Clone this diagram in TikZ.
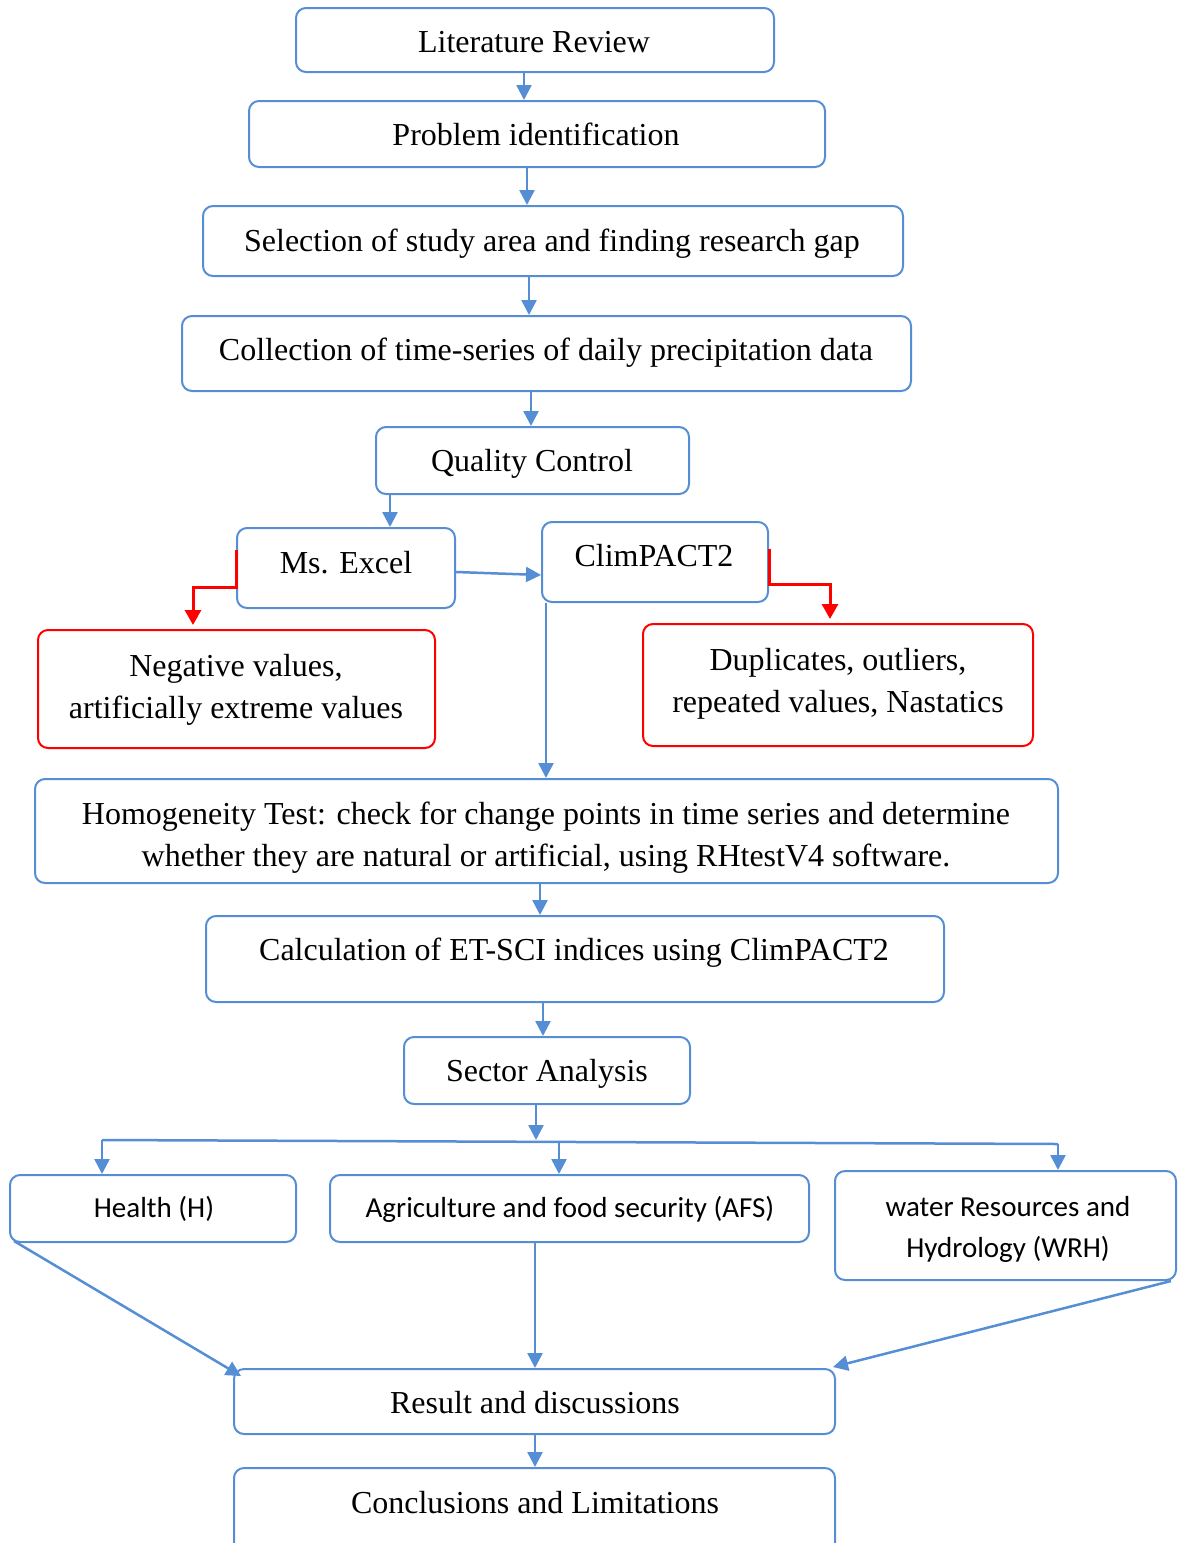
\documentclass[tikz,border=0pt]{standalone}
\usepackage{fontspec}
\setmainfont{Liberation Serif}
\newfontfamily\calfont{Carlito}
\usetikzlibrary{arrows.meta,calc,fit}
\definecolor{bl}{RGB}{85,142,213}
\definecolor{rd}{RGB}{255,0,0}
\begin{document}
\begin{tikzpicture}[x=1pt,y=-1pt,
 box/.style={draw=bl, line width=2pt, rounded corners=10pt, inner sep=0pt},
 rbox/.style={box, draw=rd},
 arr/.style={draw=bl, line width=2.5pt, -{Triangle[length=15pt,width=15pt]}},
 rarr/.style={draw=rd, line width=3pt, -{Triangle[length=15pt,width=16pt]}, shorten >=4pt},
 ln/.style={draw=bl, line width=2.5pt},
 tx/.style={font=\fontsize{32}{42}\selectfont, inner sep=0pt, anchor=base},
 tx2/.style={font=\fontsize{32}{42}\selectfont, inner sep=0pt, align=center},
 cx/.style={font=\calfont\fontsize{29}{41}\selectfont, inner sep=0pt, anchor=base},
 cx2/.style={font=\calfont\fontsize{29}{41}\selectfont, inner sep=0pt, align=center},
]
\useasboundingbox (0,0) rectangle (1178,1543);
\clip (0,0) rectangle (1178,1543);

% boxes
\node[box, fit={(296,8) (774,72)}] (lr) {};
\node[box, fit={(249,101) (825,167)}] (pi) {};
\node[box, fit={(203,206) (903,276)}] (sel) {};
\node[box, fit={(182,316) (911,391)}] (col) {};
\node[box, fit={(376,427) (689,494)}] (qc) {};
\node[box, fit={(237,528) (455,608)}] (ex) {};
\node[box, fit={(542,522) (768,602)}] (cp) {};
\node[rbox, fit={(38,630) (435,748)}] (neg) {};
\node[rbox, fit={(643,624) (1033,746)}] (dup) {};
\node[box, fit={(35,779) (1058,883)}] (ho) {};
\node[box, fit={(206,916) (944,1002)}] (calc) {};
\node[box, fit={(404,1037) (690,1104)}] (sec) {};
\node[box, fit={(10,1175) (296,1242)}] (he) {};
\node[box, fit={(330,1175) (809,1242)}] (ag) {};
\node[box, fit={(835,1171) (1176,1280)}] (wa) {};
\node[box, fit={(234,1369) (835,1434)}] (res) {};
\node[box, fit={(234,1468) (835,1580)}] (con) {};

% texts
\node[tx] (lrt) at (534,52) {Literature Review};
\node[tx] (pit) at (536,145) {Problem identification};
\node[tx] (selt) at (552,251) {Selection of study area and finding research gap};
\node[tx] (colt) at (546,360) {Collection of time-series of daily precipitation data};
\node[tx] (qct) at (532,471) {Quality Control};
\node[tx] (ext) at (346,573) {Ms. Excel};
\node[tx] (cpt) at (654,566) {ClimPACT2};
\node[tx2] (negt) at (236,690) {Negative values,\\artificially extreme values};
\node[tx2] (dupt) at (838,684) {Duplicates, outliers,\\repeated values, Nastatics};
\node[tx2] (hot) at (546,838) {Homogeneity Test: check for change points in time series and determine\\whether they are natural or artificial, using RHtestV4 software.};
\node[tx] (calct) at (574,960) {Calculation of ET-SCI indices using ClimPACT2};
\node[tx] (sect) at (547,1081) {Sector Analysis};
\node[cx] (het) at (154,1217) {Health (H)};
\node[cx] (agt) at (570,1217) {Agriculture and food security (AFS)};
\node[cx2] (wat) at (1008,1229) {water Resources and\\Hydrology (WRH)};
\node[tx] (rest) at (535,1413) {Result and discussions};
\node[tx] (cont) at (535,1513) {Conclusions and Limitations};

% connectors
\draw[arr] (lr.south -| 524,0) -- (pi.north -| 524,0);
\draw[arr] (pi.south -| 527,0) -- (sel.north -| 527,0);
\draw[arr] (sel.south -| 529,0) -- (col.north -| 529,0);
\draw[arr] (col.south -| 531,0) -- (qc.north -| 531,0);
\draw[arr] (qc.south -| 390,0) -- (ex.north -| 390,0);
\draw[arr] (ex.east |- 0,572) -- (cp.west |- 0,575);
\draw[arr] (cp.south -| 546,0) -- (ho.north -| 546,0);
\draw[rarr] (ex.west |- 0,550) -- (ex.west |- 0,587) -- (193,587) -- (neg.north -| 193,0);
\draw[rarr] (cp.east |- 0,549) -- (cp.east |- 0,584) -- (830,584) -- (dup.north -| 830,0);
\draw[arr] (ho.south -| 540,0) -- (calc.north -| 540,0);
\draw[arr] (calc.south -| 543,0) -- (sec.north -| 543,0);
\coordinate (bc) at (536,1140);
\coordinate (bl) at (102,1140);
\coordinate (bm) at (559,1142);
\coordinate (brr) at (1058,1144);
\draw[arr] (sec.south -| bc) -- (bc);
\draw[ln] (bl) -- (brr);
\draw[arr] (bl) -- (he.north -| bl);
\draw[arr] (bm) -- (ag.north -| bm);
\draw[arr] (brr) -- (wa.north -| brr);
\draw[arr] ($(he.south west)+(5,-2)$) -- ($(res.north west)+(8,8)$);
\draw[arr] (ag.south -| 535,0) -- (res.north -| 535,0);
\draw[arr] ($(wa.south east)+(-6,0)$) -- ($(res.north east)+(-3,-1)$);
\draw[arr] (res.south -| 535,0) -- (con.north -| 535,0);
\end{tikzpicture}
\end{document}
